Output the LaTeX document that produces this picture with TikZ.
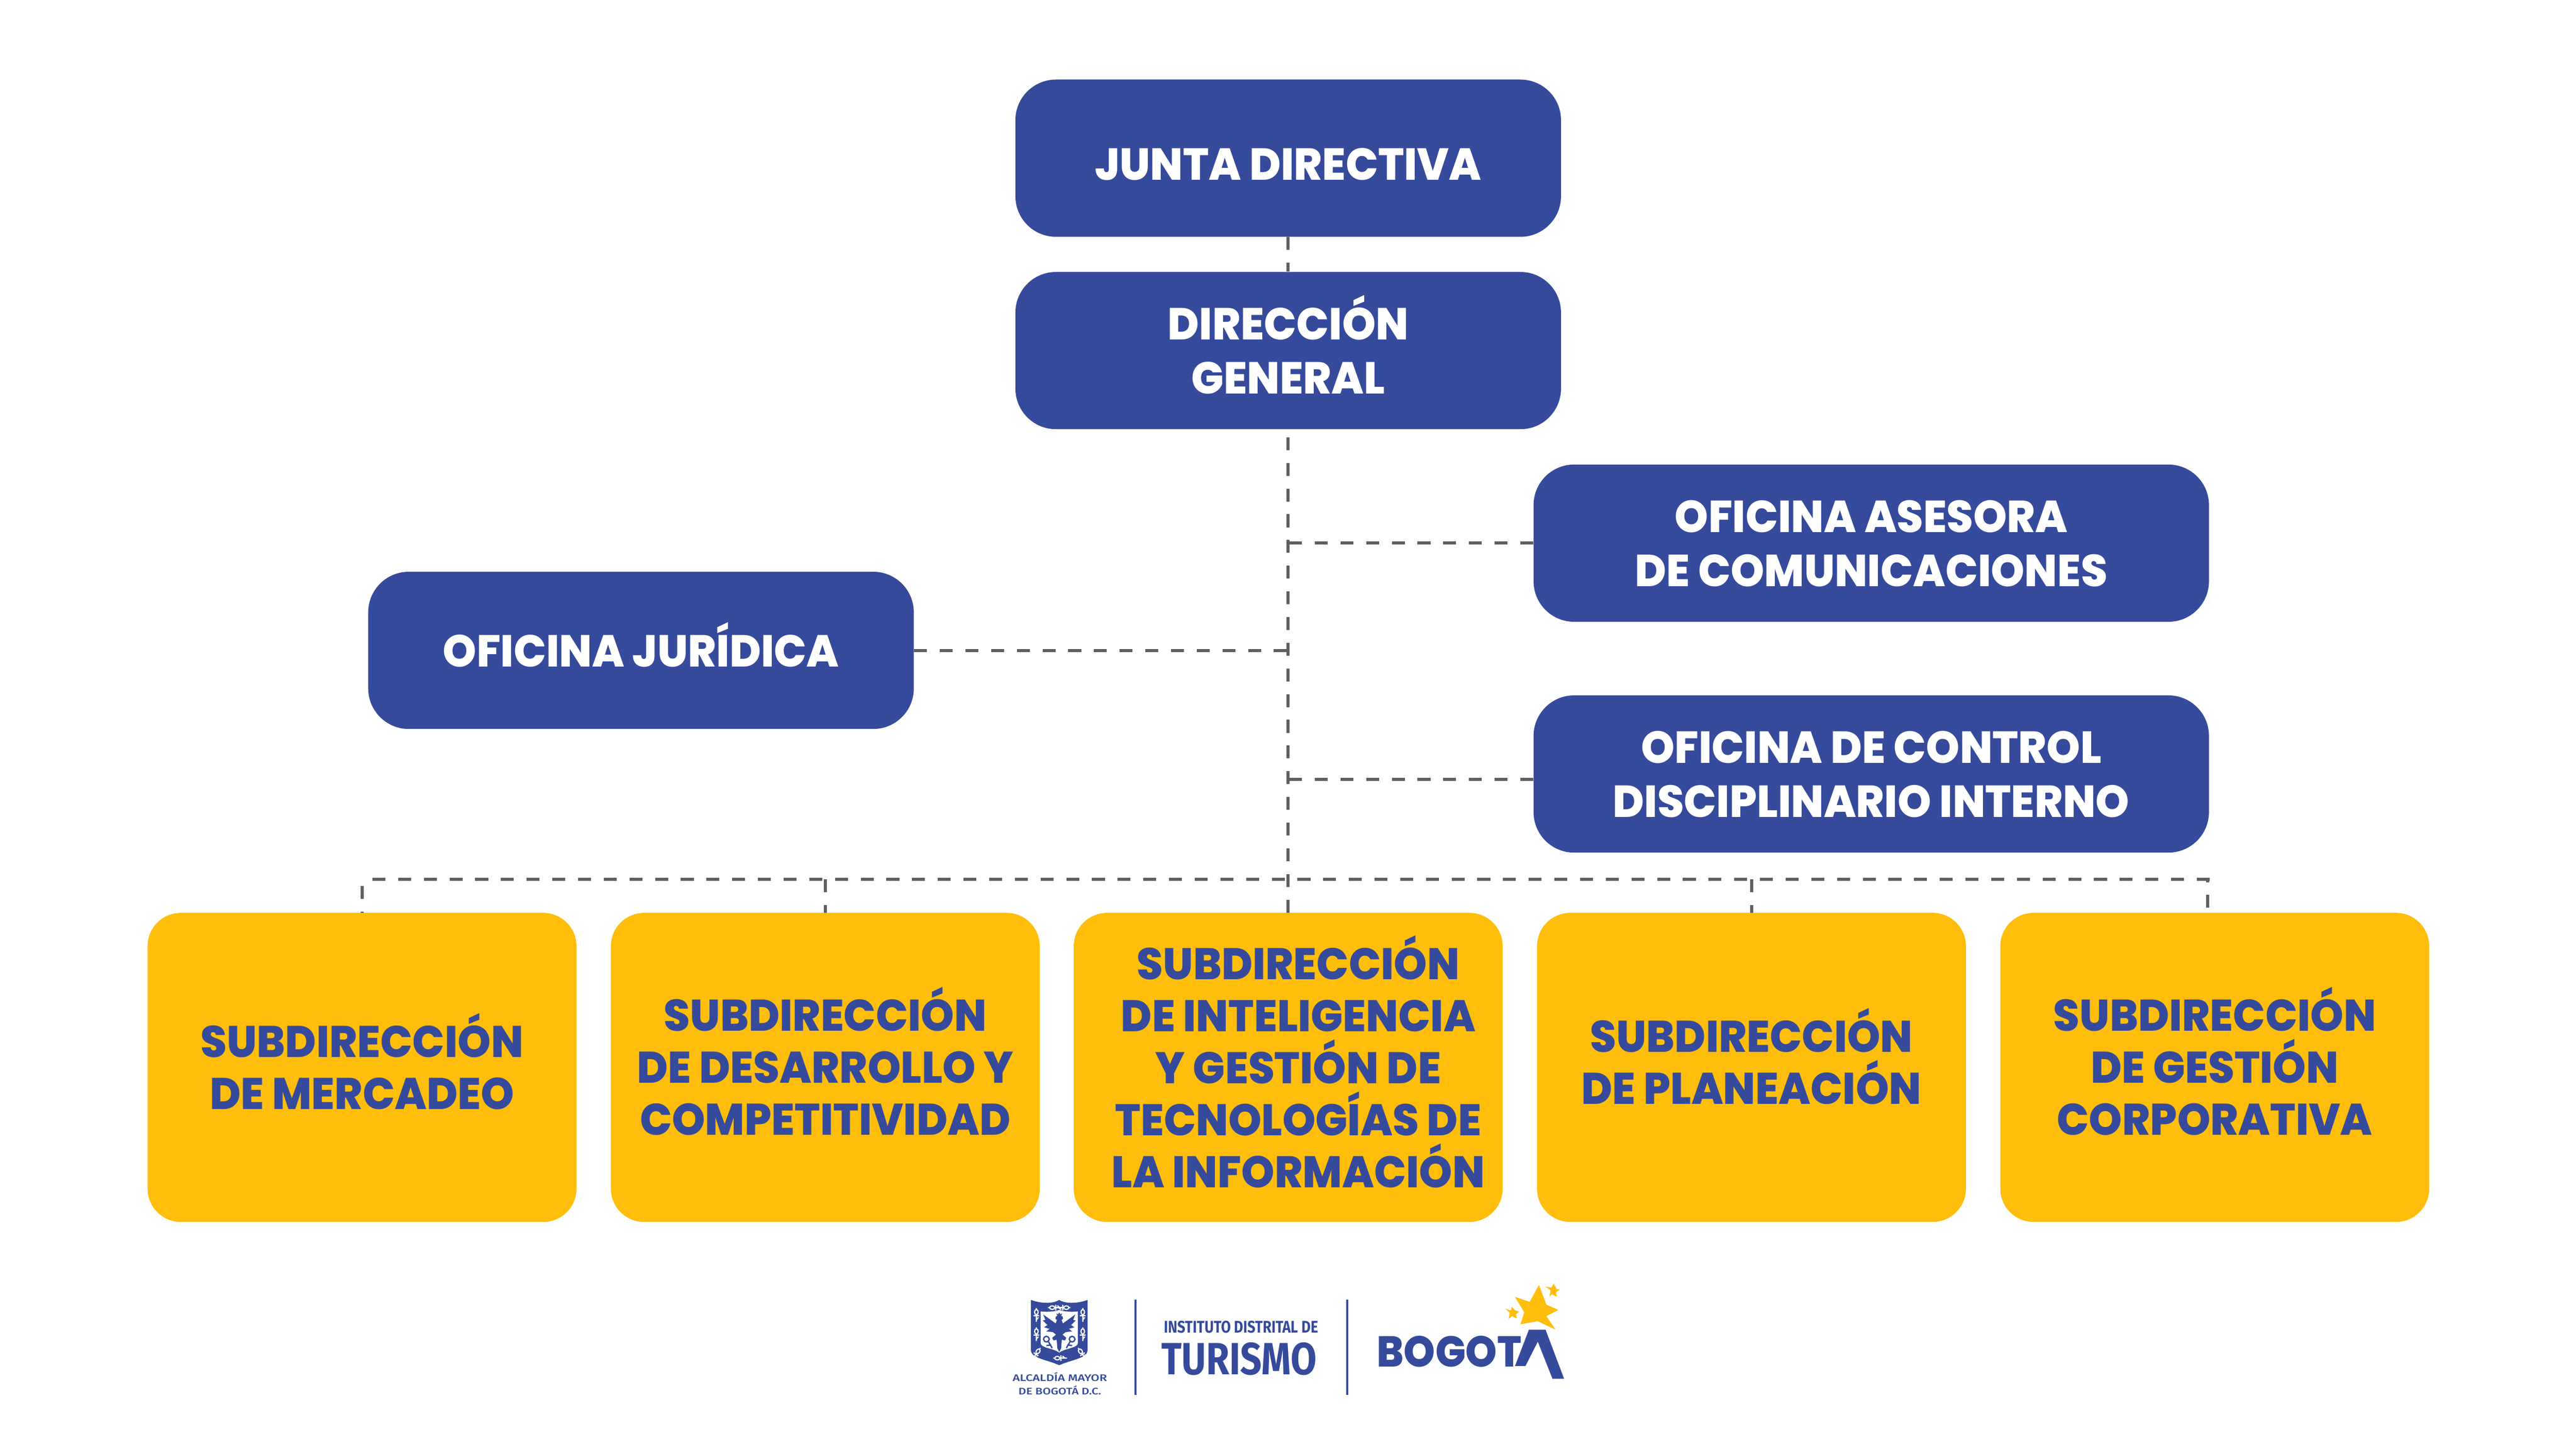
\documentclass[tikz,border=0pt]{standalone}
\usepackage{fontspec}
\setmainfont{Poppins}[BoldFont=Poppins ExtraBold, FakeStretch=0.955]
\newfontfamily\logofont{Fira Sans}[BoldFont=Fira Sans Bold]
\newfontfamily\logomedio{Fira Sans Medium}
\newfontfamily\logoancho{Poppins ExtraBold}
\definecolor{azulidt}{HTML}{364A9C}
\definecolor{oroidt}{HTML}{FFBE0B}
\definecolor{lineaidt}{HTML}{5F5F5F}
\tikzset{
    azulbox/.style={fill=azulidt, rounded corners=1.05cm, minimum width=14.12cm,
        minimum height=4.07cm, inner sep=0pt, text=white, align=center, text depth=0pt,
        font=\fontsize{33}{39.7}\selectfont\bfseries},
    orobox/.style={fill=oroidt, rounded corners=0.86cm, minimum width=11.1cm,
        minimum height=8cm, inner sep=0pt, text=azulidt, align=center, text depth=0pt,
        font=\fontsize{32.6}{38.3}\selectfont\bfseries},
    guia/.style={draw=lineaidt, line width=0.08cm, dash pattern=on 0.335cm off 0.33cm},
    logotxt/.style={inner sep=0pt, text=azulidt, font=\logofont\bfseries},
}
\begin{document}
\begin{tikzpicture}[x=1cm, y=-1cm]
    \useasboundingbox (0, 0) rectangle (66.67, 37.5);
    % direccion
    \node[azulbox, text height=1.13cm] (junta) at (33.34, 4.095) {JUNTA DIRECTIVA};
    \node[azulbox, text height=2.24cm] (direccion) at (33.34, 9.075) {DIRECCIÓN\\GENERAL};
    \node[azulbox, text height=0.84cm] (juridica) at (16.59, 16.835) {OFICINA JURÍDICA};
    \node[azulbox, text height=2.24cm, minimum width=17.48cm] (asesora) at (48.43, 14.06)
        {OFICINA ASESORA\\DE COMUNICACIONES};
    \node[azulbox, text height=2.24cm, minimum width=17.48cm] (control) at (48.43, 20.035)
        {OFICINA DE CONTROL\\DISCIPLINARIO INTERNO};
    % subdirecciones
    \foreach \i/\x/\alto/\txt in
        {1/9.37/2.16cm/{SUBDIRECCIÓN\\DE MERCADEO},
         2/21.36/3.51cm/{SUBDIRECCIÓN\\DE DESARROLLO Y\\COMPETITIVIDAD},
         4/45.33/1.9cm/{SUBDIRECCIÓN\\DE PLANEACIÓN},
         5/57.32/3.51cm/{SUBDIRECCIÓN\\DE GESTIÓN\\CORPORATIVA}}{
        \node[orobox, text height=\alto] (sub\i) at (\x, 27.63) {\txt};
    };
    \node[orobox] (sub3) at (33.34, 27.63) {};
    \node[orobox, fill=none, minimum width=0pt, minimum height=0pt,
        text height=6.21cm] (sub3txt) at (33.6, 27.63)
        {SUBDIRECCIÓN\\DE INTELIGENCIA\\Y GESTIÓN DE\\TECNOLOGÍAS DE\\LA INFORMACIÓN};
    % conectores
    \coordinate (busizq) at (9.5, 22.76);
    \coordinate (busder) at (57.14, 22.76);
    \coordinate (cruce) at (33.34, 20.18);
    \draw[guia] (junta) -- (direccion);
    \draw[guia] (sub3) -- (direccion);
    \draw[guia] (juridica) -- (juridica -| cruce);
    \draw[guia] (asesora) -- (asesora -| cruce);
    \draw[guia] (control.west |- cruce) -- (cruce);
    \draw[guia] ([xshift=0.05cm]busder) -- (busizq);
    \draw[guia] (9.37, 22.93) -- (sub1);
    \draw[guia] (busizq -| sub2) -- (sub2);
    \draw[guia] (busizq -| sub4) -- (sub4);
    \draw[guia, dash phase=0.26cm] (busder) -- (busder |- sub5.north);
    % logos
    \node[logotxt, font=\logomedio, anchor=north] (alcaldia) at (27.43, 35.52) {\resizebox{2.44cm}{0.23cm}{ALCALDÍA MAYOR}};
    \node[logotxt, font=\logomedio, anchor=north] (bogotadc) at (27.43, 35.86) {\resizebox{2.14cm}{0.23cm}{DE BOGOTÁ D.C.}};
    \node[logotxt, anchor=north west] (instituto) at (30.12, 34.18) {\resizebox{3.99cm}{0.31cm}{INSTITUTO DISTRITAL DE}};
    \node[logotxt, anchor=north west] (turismo) at (30.05, 34.75) {\resizebox{4.02cm}{0.83cm}{TURISMO}};
    \node[logotxt, font=\logoancho, anchor=north west] (bogota) at (35.63, 34.57) {\resizebox{3.74cm}{0.8cm}{BOGOT}};
    \draw[azulidt, line width=0.05cm] (29.39, 33.64) -- (29.39, 36.11);
    \draw[azulidt, line width=0.05cm] (34.87, 33.64) -- (34.87, 36.11);
    \fill[azulidt] (39.57, 34.42) -- (40.0, 34.42) -- (40.48, 35.69) -- (40.18, 35.69)
        -- (39.8, 34.73) -- (39.48, 35.36) -- (39.21, 35.36) -- cycle;
    \fill[oroidt] (39.83, 33.26) -- (40.02, 33.77) -- (40.33, 33.91) -- (40.02, 34.07)
        -- (40.26, 34.42) -- (39.8, 34.2) -- (39.35, 34.28) -- (39.45, 33.97)
        -- (39.21, 33.57) -- (39.59, 33.7) -- cycle;
    \fill[oroidt] (40.21, 33.23) -- (40.29, 33.37) -- (40.37, 33.38) -- (40.27, 33.45)
        -- (40.29, 33.57) -- (40.16, 33.5) -- (40.1, 33.57) -- (40.13, 33.4)
        -- (39.99, 33.3) -- (40.15, 33.33) -- cycle;
    \fill[oroidt] (39.13, 33.83) -- (39.21, 33.92) -- (39.32, 33.95) -- (39.23, 34.02)
        -- (39.26, 34.13) -- (39.13, 34.07) -- (39.05, 34.14) -- (39.07, 33.98)
        -- (38.96, 33.88) -- (39.1, 33.92) -- cycle;
    % escudo
    \begin{scope}[shift={(26.40, 33.50)}, x=0.00333cm, y=-0.00333cm]
        \fill[azulidt] (85, 45) .. controls (150, 70) and (250, 80) .. (305, 45)
            .. controls (360, 80) and (460, 70) .. (525, 45) -- (525, 440)
            .. controls (520, 500) and (400, 510) .. (305, 553)
            .. controls (210, 510) and (90, 500) .. (85, 440) -- cycle;
        \fill[white] (160, 135) .. controls (220, 140) and (280, 135) .. (305, 122)
            .. controls (330, 135) and (390, 140) .. (450, 135) -- (450, 380)
            .. controls (450, 420) and (350, 420) .. (305, 455)
            .. controls (260, 420) and (160, 420) .. (160, 380) -- cycle;
        \foreach \lado in {1, -1}{
            \fill[azulidt, shift={(305, 0)}, xscale=\lado] (0, 170) -- (-25, 172) -- (-30, 192)
                -- (-18, 200) -- (-28, 228) -- (-125, 158) -- (-108, 200) -- (-128, 205)
                -- (-92, 240) -- (-118, 258) -- (-75, 270) -- (-100, 290) -- (-50, 295)
                -- (-25, 315) -- (-55, 340) -- (-45, 360) -- (-20, 355) -- (-15, 420)
                -- (0, 450) -- cycle;
            \draw[azulidt, line width=0.035cm, shift={(305, 0)}, xscale=\lado]
                (-100, 350) circle (22) (-85, 368) -- (-55, 420) (-100, 400) -- (-62, 395);
        };
        \fill[azulidt] (283, 148) -- (295, 158) -- (305, 143) -- (315, 158) -- (328, 148)
            -- (320, 170) -- (290, 170) -- cycle;
        \foreach \ox/\oy/\giro in {127/140/0, 127/290/0, 488/140/0, 488/290/0,
            140/445/-35, 470/445/35, 250/105/90, 360/105/-90, 290/498/90}{
            \draw[white, line width=0.03cm, shift={(\ox, \oy)}, rotate=\giro]
                (0, 0) ellipse (14 and 20) (0, 20) -- (0, 75) (-22, 28) -- (22, 28)
                (0, 60) -- (16, 40) (0, -20) -- (0, -32);
        };
    \end{scope}
\end{tikzpicture}
\end{document}
